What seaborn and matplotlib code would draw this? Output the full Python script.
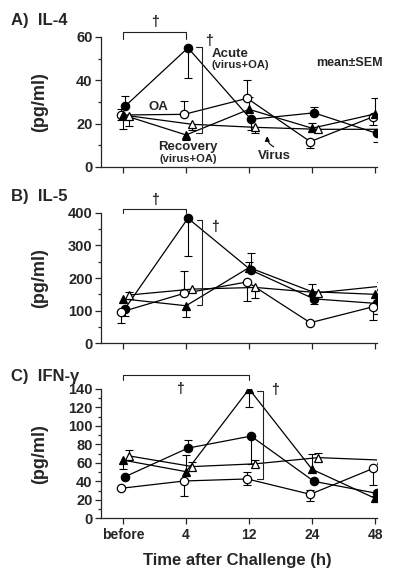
import numpy as np
import pandas as pd
import matplotlib
matplotlib.use("Agg")
import matplotlib.pyplot as plt
import seaborn as sns
from matplotlib.ticker import MultipleLocator

# --- data (mean, SEM lower / upper) ---
times = ["before", "4", "12", "24", "48"]
groups = ["Acute", "OA", "Recovery", "Virus"]

# IL-4 (pg/ml)
il4_acute = [28, 55, 22, 25, 15.5]
il4_acute_lo = [0, 14, 5, 0, 3.8]
il4_acute_hi = [4.7, 0, 0, 2.8, 0]
il4_oa = [24, 24.3, 31.7, 11.7, 23.2]
il4_oa_lo = [2.5, 0, 0, 3.1, 3.8]
il4_oa_hi = [3, 6.2, 8.3, 0, 0]
il4_rec = [24, 14.8, 26.6, 17.9, 24.5]
il4_rec_lo = [6.6, 2.3, 0, 0, 0]
il4_rec_hi = [0, 0, 5.6, 2.3, 7.2]
il4_virus = [23.6, 19.7, 18.3, 17.4, 17.4]
il4_virus_lo = [4.8, 2.7, 2.5, 0, 0]
il4_virus_hi = [0, 0, 0, 0, 0]

# IL-5 (pg/ml)
il5_acute = [106, 383, 224, 136, 122]
il5_acute_lo = [22, 116, 0, 17, 32]
il5_acute_hi = [0, 0, 53, 0, 0]
il5_oa = [96, 153, 188, 63, 112]
il5_oa_lo = [35, 0, 58, 0, 41]
il5_oa_hi = [0, 68, 0, 0, 0]
il5_rec = [136, 115, 232, 158, 150]
il5_rec_lo = [0, 35, 0, 0, 0]
il5_rec_hi = [0, 0, 18, 24, 0]
il5_virus = [148, 166, 171, 155, 175]
il5_virus_lo = [0, 0, 32, 0, 0]
il5_virus_hi = [10, 0, 0, 0, 13]

# IFN-gamma (pg/ml)
ifn_acute = [45, 76, 89, 40, 27]
ifn_acute_lo = [0, 0, 30, 0, 6]
ifn_acute_hi = [0, 9, 0, 0, 0]
ifn_oa = [32.5, 40.4, 42.6, 26, 54]
ifn_oa_lo = [0, 16, 6.6, 7, 18]
ifn_oa_hi = [0, 0, 8, 4.7, 0]
ifn_rec = [63, 50.5, 140, 53, 21.6]
ifn_rec_lo = [10, 0, 19, 0, 0]
ifn_rec_hi = [0, 18, 0, 17, 3]
ifn_virus = [67.5, 56, 59, 65.7, 63]
ifn_virus_lo = [0, 0, 0, 0, 0]
ifn_virus_hi = [6.5, 5.3, 4.5, 5.3, 0]

# marker style per group: (marker, face colour, x dodge)
styles = {
    "Acute": ("o", "black", 0.03),
    "OA": ("o", "white", -0.03),
    "Recovery": ("^", "black", 0.0),
    "Virus": ("^", "white", 0.1),
}


def build_df(series):
    rows = []
    for g, (vals, lo, hi) in series.items():
        for i, t in enumerate(times):
            rows.append({"group": g, "t": i, "x": i + styles[g][2],
                         "value": vals[i], "lo": lo[i], "hi": hi[i]})
    return pd.DataFrame(rows)


panels = [
    ("A)  IL-4", build_df({
        "Acute": (il4_acute, il4_acute_lo, il4_acute_hi),
        "OA": (il4_oa, il4_oa_lo, il4_oa_hi),
        "Recovery": (il4_rec, il4_rec_lo, il4_rec_hi),
        "Virus": (il4_virus, il4_virus_lo, il4_virus_hi)})),
    ("B)  IL-5", build_df({
        "Acute": (il5_acute, il5_acute_lo, il5_acute_hi),
        "OA": (il5_oa, il5_oa_lo, il5_oa_hi),
        "Recovery": (il5_rec, il5_rec_lo, il5_rec_hi),
        "Virus": (il5_virus, il5_virus_lo, il5_virus_hi)})),
    ("C)  IFN-γ", build_df({
        "Acute": (ifn_acute, ifn_acute_lo, ifn_acute_hi),
        "OA": (ifn_oa, ifn_oa_lo, ifn_oa_hi),
        "Recovery": (ifn_rec, ifn_rec_lo, ifn_rec_hi),
        "Virus": (ifn_virus, ifn_virus_lo, ifn_virus_hi)})),
]

sns.set_style("ticks")
plt.rcParams["font.family"] = ["Liberation Sans", "DejaVu Sans"]
plt.rcParams["font.weight"] = "bold"

fig = plt.figure(figsize=(4.0, 5.78), dpi=100)
W, H = 400, 578

# axes boxes in pixels: (left, top, right, bottom)
boxes = [(101, 37, 377, 167), (101, 212.7, 377, 343.3), (101, 389, 377, 518.3)]
ylims = [(0, 60), (0, 400), (0, 140)]
majors = [20, 100, 20]
minors = [10, 50, 10]
title_y = [20, 197, 376]

axes = []
for k, (title, df) in enumerate(panels):
    l, t, r, b = boxes[k]
    ax = fig.add_axes([l / W, 1 - b / H, (r - l) / W, (b - t) / H])
    axes.append(ax)

    for g in groups:
        sub = df[df.group == g]
        m, fc, _ = styles[g]
        # error bars: one-sided stems with caps
        for side, sign in (("lo", -1), ("hi", 1)):
            s = sub[sub[side] > 0]
            ends = s["value"] + sign * s[side]
            ax.vlines(s["x"], s["value"], ends, color="black", lw=0.8, zorder=1)
            ax.plot(s["x"], ends, ls="none", marker="_", ms=6, mew=0.8,
                    color="black", zorder=1)
        sns.lineplot(data=sub, x="x", y="value", ax=ax, color="black", lw=0.9,
                     marker=m, markerfacecolor=fc, markeredgecolor="black",
                     markeredgewidth=0.9, markersize=6, sort=False,
                     legend=False, zorder=2)

    ax.set_xlim(-0.35, 4.03)
    ax.set_ylim(*ylims[k])
    ax.yaxis.set_major_locator(MultipleLocator(majors[k]))
    ax.yaxis.set_minor_locator(MultipleLocator(minors[k]))
    ax.set_xticks(range(len(times)))
    ax.tick_params(axis="y", which="major", length=4, width=0.9, labelsize=10.5, pad=2)
    ax.tick_params(axis="y", which="minor", length=2.5, width=0.9)
    ax.tick_params(axis="x", length=4, width=0.9, labelsize=10, pad=3)
    if k == 2:
        ax.set_xticklabels(times)
        ax.set_xlabel("Time after Challenge (h)", fontsize=12, fontweight="bold")
        ax.xaxis.set_label_coords(0.495, -0.27)
    else:
        ax.set_xticklabels([])
        ax.set_xlabel("")
    ax.set_ylabel("(pg/ml)", fontsize=13, fontweight="bold")
    ax.yaxis.set_label_coords(-0.19, 0.5)
    sns.despine(ax=ax)
    for sp in ("left", "bottom"):
        ax.spines[sp].set_linewidth(0.9)
    fig.text(11 / W, 1 - title_y[k] / H, title, fontsize=12, fontweight="bold",
             va="center", ha="left")

# significance brackets and daggers
bk = dict(color="#222222", lw=0.8, clip_on=False)
dg = dict(ha="center", va="center", fontsize=10, clip_on=False)

ax = axes[0]
ax.plot([0, 0, 1, 1], [59, 62.4, 62.4, 59], **bk)
ax.text(0.5, 67, "†", **dg)
ax.plot([1.16, 1.25, 1.25, 1.16], [55.4, 55.4, 15.7, 15.7], **bk)
ax.text(1.36, 58, "†", **dg)
ax.text(1.41, 52.2, "Acute", fontsize=9.5, ha="left", va="center")
ax.text(1.41, 47, "(virus+OA)", fontsize=8, ha="left", va="center")
ax.text(3.6, 48, "mean±SEM", fontsize=9, ha="center", va="center")
ax.text(0.56, 27.7, "OA", fontsize=9.5, ha="center", va="center")
ax.text(1.03, 9.2, "Recovery", fontsize=9.5, ha="center", va="center")
ax.text(1.03, 3.7, "(virus+OA)", fontsize=8, ha="center", va="center")
ax.text(2.4, 5.1, "Virus", fontsize=9.5, ha="center", va="center")
ax.annotate("", xy=(2.29, 15.5), xytext=(2.43, 8.8),
            arrowprops=dict(arrowstyle="-|>", color="black", lw=0.8,
                            mutation_scale=7, connectionstyle="arc3,rad=-0.4"))

ax = axes[1]
ax.plot([0, 0, 1, 1], [398, 410, 410, 398], **bk)
ax.text(0.5, 439, "†", **dg)
ax.plot([1.17, 1.25, 1.25, 1.17], [377, 377, 117, 117], **bk)
ax.text(1.46, 357, "†", **dg)

ax = axes[2]
ax.plot([0, 0, 2, 2], [150, 155, 155, 150], **bk)
ax.text(0.9, 140, "†", **dg)
ax.plot([2.12, 2.22, 2.22, 2.12], [138, 138, 42.5, 42.5], **bk)
ax.text(2.41, 139, "†", **dg)

fig.savefig("out.png", dpi=100)
